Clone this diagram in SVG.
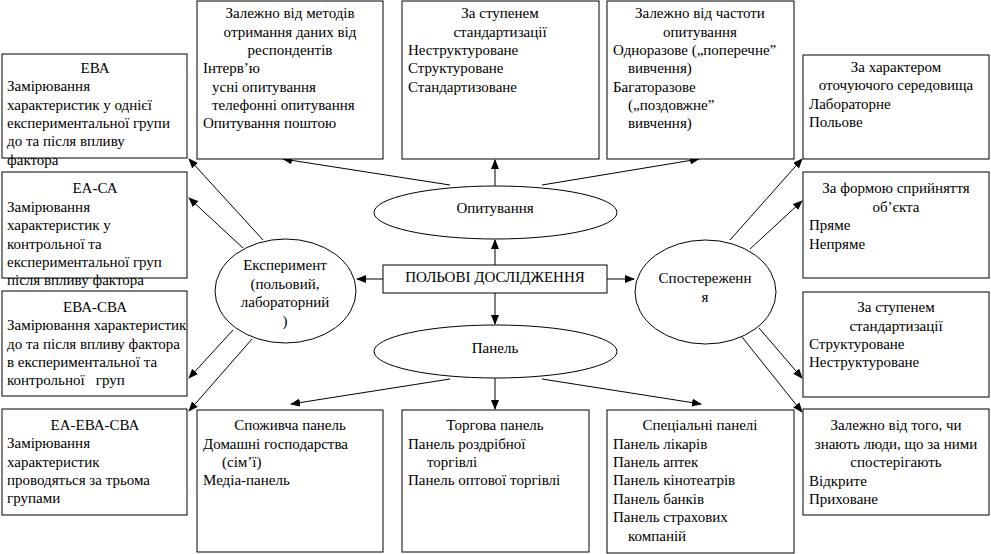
<svg xmlns="http://www.w3.org/2000/svg" width="991" height="554" viewBox="0 0 991 554">
<defs>
<style>
rect.b{fill:#fff;stroke:#000;stroke-width:1}
ellipse{fill:#fff;stroke:#000;stroke-width:1}
text{font-family:"Liberation Serif","Times New Roman",serif;font-size:15px;fill:#000}
.c{text-anchor:middle}
#connectors line{stroke:#000;stroke-width:1;marker-end:url(#ah)}
</style>
<marker id="ah" markerWidth="10" markerHeight="8" refX="9" refY="4" orient="auto" markerUnits="userSpaceOnUse">
<path d="M0,0 L10,4 L0,8 Z" fill="#000"/>
</marker>
</defs>
<rect width="991" height="554" fill="#fff"/>

<g id="connectors">
<line x1="495" y1="265" x2="495" y2="240"/>
<line x1="495" y1="186" x2="495" y2="160"/>
<line x1="495" y1="293" x2="495" y2="324"/>
<line x1="495" y1="378" x2="495" y2="409"/>
<line x1="383" y1="279" x2="357" y2="279"/>
<line x1="607" y1="279" x2="634" y2="279"/>
<line x1="450" y1="185" x2="283" y2="159"/>
<line x1="542" y1="185" x2="699" y2="159"/>
<line x1="450" y1="379" x2="291" y2="404"/>
<line x1="542" y1="379" x2="701" y2="404"/>
<line x1="263" y1="240" x2="189" y2="159"/>
<line x1="243" y1="248" x2="189" y2="198"/>
<line x1="233" y1="330" x2="189" y2="378"/>
<line x1="252" y1="339" x2="189" y2="411"/>
<line x1="730" y1="240" x2="802" y2="159"/>
<line x1="750" y1="249" x2="802" y2="201"/>
<line x1="759" y1="328" x2="802" y2="378"/>
<line x1="742" y1="337" x2="802" y2="412"/>
</g>

<g id="n-metody">
<rect class="b" x="197" y="1" width="186" height="158"/>
<text class="c" x="290" y="18">Залежно від методів</text>
<text class="c" x="290" y="36.5">отримання даних від</text>
<text class="c" x="290" y="55">респондентів</text>
<text x="203" y="73">Інтерв’ю</text>
<text x="212" y="91.5">усні опитування</text>
<text x="212" y="110">телефонні опитування</text>
<text x="203" y="128">Опитування поштою</text>
</g>

<g id="n-stupenem1">
<rect class="b" x="402" y="1" width="197" height="158"/>
<text class="c" x="500" y="18">За ступенем</text>
<text class="c" x="500" y="36.5">стандартизації</text>
<text x="408" y="55">Неструктуроване</text>
<text x="408" y="73">Структуроване</text>
<text x="408" y="91.5">Стандартизоване</text>
</g>

<g id="n-chastoty">
<rect class="b" x="607" y="1" width="187" height="158"/>
<text class="c" x="700" y="18">Залежно від частоти</text>
<text class="c" x="700" y="36.5">опитування</text>
<text x="613" y="55">Одноразове („поперечне”</text>
<text x="628" y="73">вивчення)</text>
<text x="613" y="91.5">Багаторазове</text>
<text x="628" y="110">(„поздовжне”</text>
<text x="628" y="128">вивчення)</text>
</g>

<g id="n-kharakter">
<rect class="b" x="803" y="55" width="186" height="104"/>
<text class="c" x="896" y="72">За характером</text>
<text class="c" x="896" y="90">оточуючого середовища</text>
<text x="809" y="108.5">Лабораторне</text>
<text x="809" y="127">Польове</text>
</g>

<g id="n-eva">
<rect class="b" x="2" y="54" width="185" height="104"/>
<text class="c" x="95" y="73">ЕВА</text>
<text x="7" y="91">Замірювання</text>
<text x="7" y="109.5">характеристик у однієї</text>
<text x="7" y="128">експериментальної групи</text>
<text x="7" y="146">до та після впливу</text>
<text x="7" y="164.5">фактора</text>
</g>

<g id="n-eaca">
<rect class="b" x="2" y="172" width="185" height="106"/>
<text class="c" x="95" y="193">ЕА-СА</text>
<text x="7" y="211.5">Замірювання</text>
<text x="7" y="230">характеристик у</text>
<text x="7" y="248.5">контрольної та</text>
<text x="7" y="267">експериментальної груп</text>
<text x="7" y="284.5">після впливу фактора</text>
</g>

<g id="n-evacva">
<rect class="b" x="2" y="291" width="185" height="105"/>
<text class="c" x="95" y="312">ЕВА-СВА</text>
<text x="7" y="330">Замірювання характеристик</text>
<text x="7" y="348.5">до та після впливу фактора</text>
<text x="7" y="367">в експериментальної та</text>
<text x="7" y="385" xml:space="preserve">контрольної   груп</text>
</g>

<g id="n-eaevacva">
<rect class="b" x="2" y="409" width="185" height="106"/>
<text class="c" x="95" y="430">ЕА-ЕВА-СВА</text>
<text x="7" y="448">Замірювання</text>
<text x="7" y="466.5">характеристик</text>
<text x="7" y="485">проводяться за трьома</text>
<text x="7" y="503">групами</text>
</g>

<g id="n-main">
<rect class="b" x="383" y="265" width="224" height="28"/>
<text class="c" x="495" y="282">ПОЛЬОВІ ДОСЛІДЖЕННЯ</text>
</g>

<g id="n-opytuvannia">
<ellipse cx="495.5" cy="212.5" rx="121.5" ry="26.5"/>
<text class="c" x="495" y="213">Опитування</text>
</g>

<g id="n-panel">
<ellipse cx="495.5" cy="351.5" rx="121.5" ry="26.5"/>
<text class="c" x="495" y="353">Панель</text>
</g>

<g id="n-eksperyment">
<ellipse cx="285.5" cy="291" rx="70.5" ry="52"/>
<text class="c" x="285" y="270">Експеримент</text>
<text class="c" x="285" y="289">(польовий,</text>
<text class="c" x="285" y="307">лабораторний</text>
<text class="c" x="285" y="325.5">)</text>
</g>

<g id="n-sposterezhennia">
<ellipse cx="705.5" cy="292" rx="70.5" ry="52"/>
<text class="c" x="705" y="283">Спостереженн</text>
<text class="c" x="705" y="301.5">я</text>
</g>

<g id="n-formoiu">
<rect class="b" x="803" y="172" width="186" height="106"/>
<text class="c" x="896" y="193">За формою сприйняття</text>
<text class="c" x="896" y="211.5">об’єкта</text>
<text x="809" y="230">Пряме</text>
<text x="809" y="248.5">Непряме</text>
</g>

<g id="n-stupenem2">
<rect class="b" x="803" y="292" width="186" height="105"/>
<text class="c" x="896" y="312">За ступенем</text>
<text class="c" x="896" y="330.5">стандартизації</text>
<text x="809" y="349">Структуроване</text>
<text x="809" y="367">Неструктуроване</text>
</g>

<g id="n-znaiut">
<rect class="b" x="803" y="409" width="186" height="106"/>
<text class="c" x="896" y="430">Залежно від того, чи</text>
<text class="c" x="896" y="448.5">знають люди, що за ними</text>
<text class="c" x="896" y="467">спостерігають</text>
<text x="809" y="485.5">Відкрите</text>
<text x="809" y="504">Приховане</text>
</g>

<g id="n-spozhyvcha">
<rect class="b" x="197" y="410" width="186" height="142"/>
<text class="c" x="290" y="430">Споживча панель</text>
<text x="203" y="448.5">Домашні господарства</text>
<text x="222" y="467">(сім’ї)</text>
<text x="203" y="485">Медіа-панель</text>
</g>

<g id="n-torhova">
<rect class="b" x="402" y="410" width="187" height="142"/>
<text class="c" x="495" y="430">Торгова панель</text>
<text x="408" y="448.5">Панель роздрібної</text>
<text x="427" y="467">торгівлі</text>
<text x="408" y="485">Панель оптової торгівлі</text>
</g>

<g id="n-spetsialni">
<rect class="b" x="607" y="410" width="187" height="143"/>
<text class="c" x="700" y="430">Спеціальні панелі</text>
<text x="613" y="448.5">Панель лікарів</text>
<text x="613" y="467">Панель аптек</text>
<text x="613" y="485">Панель кінотеатрів</text>
<text x="613" y="503.5">Панель банків</text>
<text x="613" y="522">Панель страхових</text>
<text x="628" y="540.5">компаній</text>
</g>
</svg>
